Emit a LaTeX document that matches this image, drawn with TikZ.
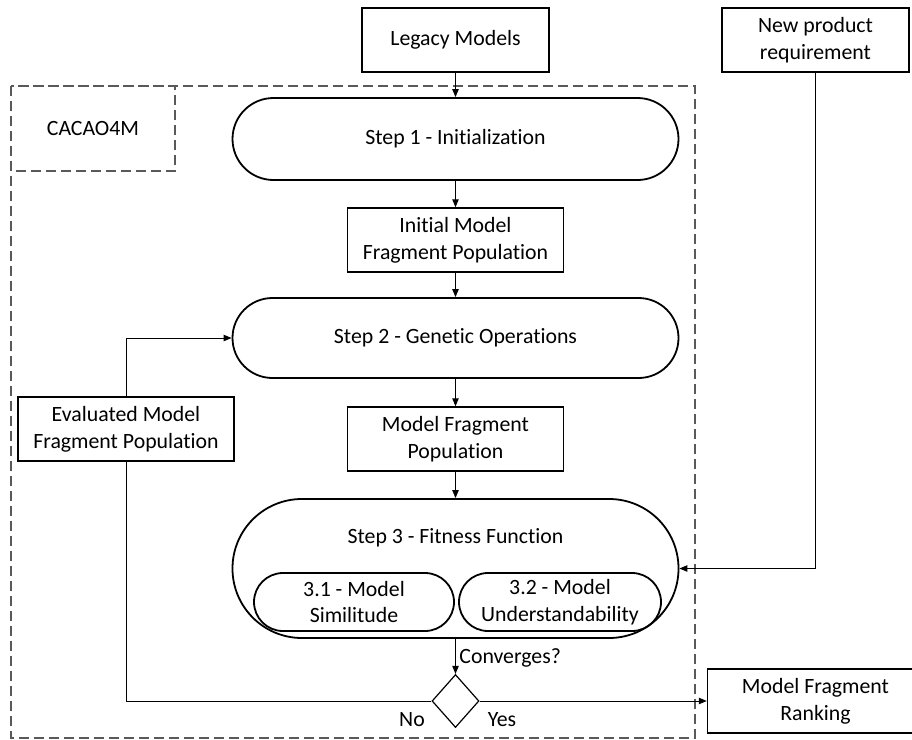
\documentclass[tikz,border=0pt]{standalone}
\usepackage{fontspec}
\setmainfont{Carlito}[Ligatures=NoCommon]
\usetikzlibrary{arrows.meta,shapes.geometric}
\definecolor{dashgray}{HTML}{595959}
\begin{document}
\begin{tikzpicture}[x=0.5pt,y=-0.5pt,
  font=\fontsize{10.9}{13.4}\selectfont,
  box/.style={draw,line width=0.7pt,align=center,inner sep=0pt,minimum width=108pt,minimum height=32pt},
  stadium/.style={draw,line width=0.9pt,align=center,inner sep=0pt},
  conn/.style={line width=0.5pt,-{Triangle[length=4pt,width=3.2pt]}},
  plain/.style={line width=0.5pt},
  dashbox/.style={draw=dashgray,line width=0.6pt,dash pattern=on 5pt off 2.5pt}]
\useasboundingbox (0,0) rectangle (912,740);
% outer dashed frame and label box
\draw[dashbox] (11,86) rectangle (695,738);
\draw[dashbox] (11,86) rectangle (175,171);
\node (cacao) at (93,128) {CACAO4M};
% boxes
\node[box,minimum width=93.5pt] (legacy) at (455.5,40) {Legacy Models};
\node[box,minimum width=93.5pt] (newreq) at (815.5,40) {New product\\requirement};
\node[stadium,minimum width=223pt,minimum height=41pt,rounded corners=20.5pt] (step1) at (455.5,139) {Step 1 - Initialization};
\node[box] (init) at (455.5,240) {Initial Model\\Fragment Population};
\node[stadium,minimum width=223pt,minimum height=40pt,rounded corners=20pt] (step2) at (455.5,338) {Step 2 - Genetic Operations};
\node[box] (eval) at (126,429) {Evaluated Model\\Fragment Population};
\node[box] (mfp) at (455.5,439) {Model Fragment\\Population};
\node[stadium,minimum width=223pt,minimum height=69.5pt,rounded corners=34.7pt] (step3) at (455.5,568.5) {};
\node (step3lbl) at (455.5,538) {Step 3 - Fitness Function};
\node[stadium,minimum width=100pt,minimum height=29pt,rounded corners=14.5pt] (s31) at (354,602) {3.1 - Model\\Similitude};
\node[stadium,minimum width=101pt,minimum height=29pt,rounded corners=14.5pt] (s32) at (560,602) {3.2 - Model\\Understandability};
\node[draw,line width=0.6pt,diamond,minimum width=23.5pt,minimum height=26.5pt,inner sep=0pt] (dia) at (455.5,701) {};
\node[box] (rank) at (815.5,701) {Model Fragment\\Ranking};
% labels
\node[anchor=west,inner sep=0pt] (conv) at (459,658) {Converges?};
\node (no) at (412,720) {No};
\node (yes) at (502,720) {Yes};
% connectors
\draw[conn] (legacy.south) -- (step1.north);
\draw[conn] (step1.south) -- (init.north);
\draw[conn] (init.south) -- (step2.north);
\draw[conn] (step2.south) -- (mfp.north);
\draw[conn] (mfp.south) -- (step3.north);
\draw[conn] (step3.south) -- (dia.north);
\draw[plain] (dia.west) -| (eval.south);
\draw[conn] (eval.north) |- (step2.west);
\draw[conn] (newreq.south) |- (step3.east);
\draw[conn] (dia.east) -- (rank.west);
\end{tikzpicture}
\end{document}
